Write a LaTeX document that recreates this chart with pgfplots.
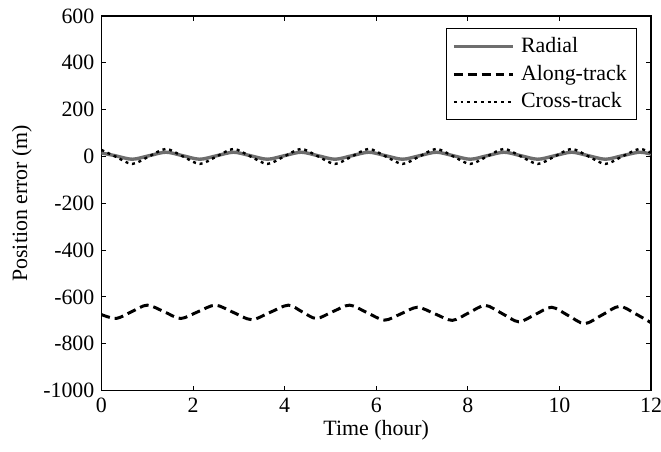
\documentclass[border=0pt]{standalone}
\usepackage{pgfplots}
\pgfplotsset{compat=1.18}
\usepackage{fontspec}
\setmainfont{Liberation Serif}
\definecolor{radgray}{RGB}{110,110,110}
\pgfplotsset{mylegimg/.style={legend image code/.code={\draw[##1] (0pt,0pt) -- (30pt,0pt);}}}
\begin{document}
\begin{tikzpicture}
\begin{axis}[
  width=276.5pt, height=188.5pt, scale only axis,
  xmin=0, xmax=12, ymin=-1000, ymax=600,
  xtick={0,2,4,6,8,10,12},
  xticklabels={0,2,4,6,8,10,12},
  ytick={-1000,-800,-600,-400,-200,0,200,400,600},
  yticklabels={-1000,-800,-600,-400,-200,0,200,400,600},
  tick align=inside, major tick length=2.5pt,
  axis line style={line width=0.7pt},
  tick style={line width=0.5pt, black},
  ticklabel style={font=\fontsize{11}{13}\selectfont},
  label style={font=\fontsize{11}{13}\selectfont},
  xlabel={Time (hour)},
  ylabel={Position error (m)},
  xlabel style={yshift=3pt},
  ylabel style={yshift=-1pt},
  legend cell align=left,
  legend style={at={(1,1)}, anchor=north east, xshift=-7pt, yshift=-6pt,
    draw=black, line width=0.5pt, font=\fontsize{11}{13}\selectfont,
    row sep=0.8pt, inner ysep=2.5pt, inner xsep=3pt,
    /tikz/every odd column/.append style={column sep=1pt}},
  clip=true,
]
\coordinate (bl) at (rel axis cs:0,0);
\coordinate (tr) at (rel axis cs:1,1);
\addplot[radgray, line width=1.7pt, smooth, mylegimg] coordinates {
(0,15) (0.303,3) (0.672,-12) (1.041,3) (1.41,18) (1.779,3) (2.148,-12) (2.517,3)
(2.886,18) (3.255,3) (3.624,-12) (3.993,3) (4.362,18) (4.731,3) (5.10,-12) (5.469,3)
(5.838,18) (6.207,3) (6.576,-12) (6.945,3) (7.314,18) (7.683,3) (8.052,-12) (8.421,3)
(8.79,18) (9.159,3) (9.528,-12) (9.897,3) (10.266,18) (10.635,3) (11.004,-12) (11.373,3)
(11.742,18) (12.0,10)
};
\addlegendentry{Radial}
\addplot[black, line width=1.5pt, dash pattern=on 4.5pt off 2.5pt, smooth, mylegimg] coordinates {
(0,-675) (0.32,-692) (0.66,-663) (1.0,-635) (1.37,-663) (1.73,-692) (2.11,-663)
(2.49,-635) (2.88,-666) (3.28,-697) (3.68,-666) (4.08,-635) (4.38,-663) (4.69,-692)
(5.05,-663) (5.42,-635) (5.80,-667) (6.18,-699) (6.54,-672) (6.90,-644) (7.28,-672)
(7.66,-700) (8.02,-668) (8.38,-636) (8.75,-671) (9.11,-706) (9.47,-675) (9.83,-644)
(10.19,-679) (10.55,-714) (10.93,-677) (11.31,-640) (11.66,-672) (12.0,-710)
};
\addlegendentry{Along-track}
\addplot[black, line width=1.2pt, dash pattern=on 1.5pt off 1.9pt, smooth, mylegimg] coordinates {
(0,28) (0.303,0) (0.672,-32) (1.041,0) (1.41,32) (1.779,0) (2.148,-32) (2.517,0)
(2.886,32) (3.255,0) (3.624,-32) (3.993,0) (4.362,32) (4.731,0) (5.10,-32) (5.469,0)
(5.838,32) (6.207,0) (6.576,-32) (6.945,0) (7.314,32) (7.683,0) (8.052,-32) (8.421,0)
(8.79,32) (9.159,0) (9.528,-32) (9.897,0) (10.266,32) (10.635,0) (11.004,-32) (11.373,0)
(11.742,32) (12.0,15)
};
\addlegendentry{Cross-track}
\end{axis}
\pgfresetboundingbox
\path ([shift={(-51pt,-30.5pt)}]bl) rectangle ([shift={(5pt,8pt)}]tr);
\end{tikzpicture}
\end{document}
